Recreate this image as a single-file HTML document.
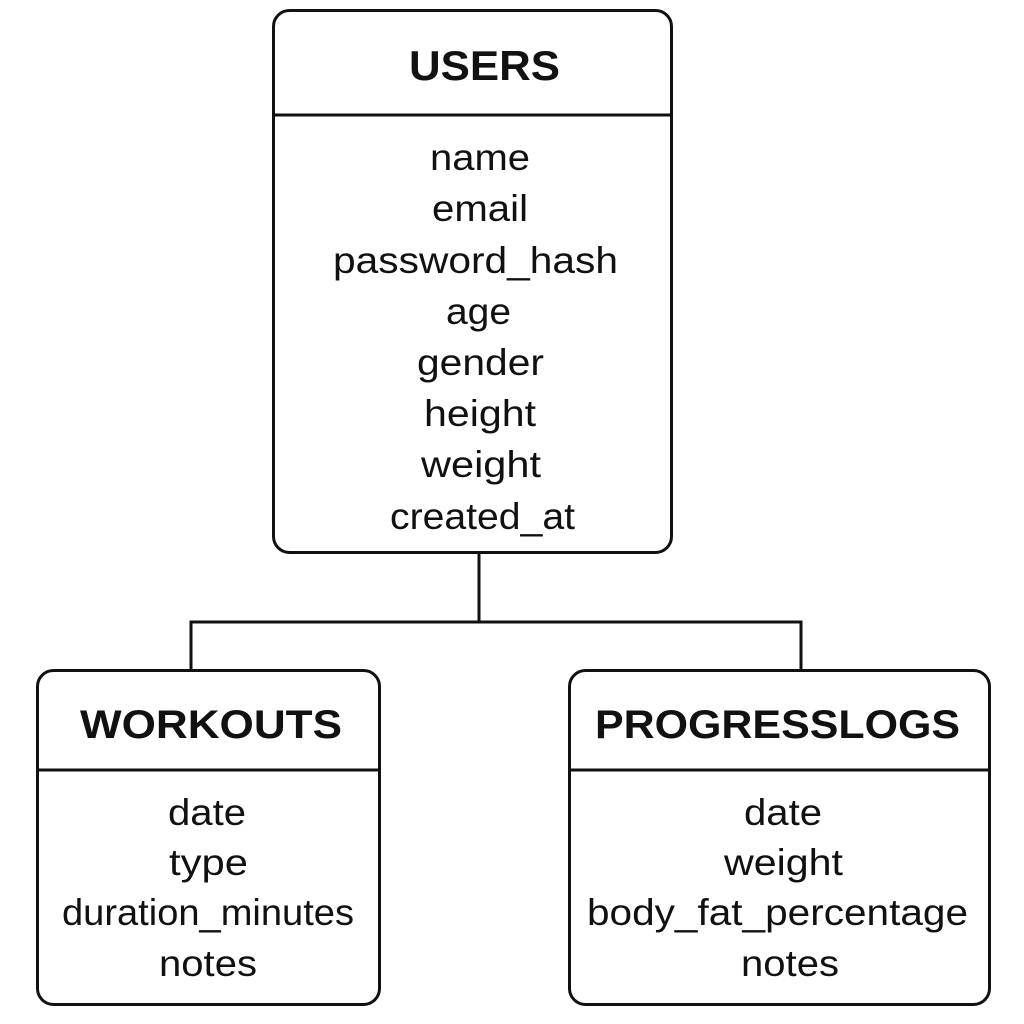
<!DOCTYPE html>
<html><head><meta charset="utf-8"><style>
html,body{margin:0;padding:0;background:#fff;}
body{width:1024px;height:1024px;position:relative;overflow:hidden;font-family:"Liberation Sans",sans-serif;color:#111;}
</style></head><body>
<svg width="1024" height="1024" viewBox="0 0 1024 1024" xmlns="http://www.w3.org/2000/svg" style="position:absolute;left:0;top:0">
<g fill="none" stroke="#111" stroke-width="3">
<rect x="273.5" y="10.5" width="398" height="542" rx="16"/>
<line x1="273.5" y1="115" x2="671.5" y2="115"/>
<rect x="37.5" y="670.5" width="342" height="334" rx="16"/>
<line x1="37.5" y1="770" x2="379.5" y2="770"/>
<rect x="569.5" y="670.5" width="420" height="334" rx="16"/>
<line x1="569.5" y1="770" x2="989.5" y2="770"/>
<polyline points="479,553 479,622"/>
<polyline points="191,670 191,622 801,622 801,670"/>
</g>
<g font-family="Liberation Sans, sans-serif" text-anchor="middle" fill="#111" lengthAdjust="spacingAndGlyphs">
<text x="484.5" y="80" font-size="42" font-weight="bold" textLength="151" lengthAdjust="spacingAndGlyphs">USERS</text>
<g font-size="37">
<text x="480" y="170" textLength="100" lengthAdjust="spacingAndGlyphs">name</text>
<text x="480" y="221" textLength="96" lengthAdjust="spacingAndGlyphs">email</text>
<text x="475.5" y="273" textLength="285" lengthAdjust="spacingAndGlyphs">password_hash</text>
<text x="478.5" y="324" textLength="65" lengthAdjust="spacingAndGlyphs">age</text>
<text x="480.5" y="375" textLength="127" lengthAdjust="spacingAndGlyphs">gender</text>
<text x="480" y="426" textLength="112" lengthAdjust="spacingAndGlyphs">height</text>
<text x="481" y="477" textLength="120" lengthAdjust="spacingAndGlyphs">weight</text>
<text x="482.5" y="529" textLength="185" lengthAdjust="spacingAndGlyphs">created_at</text>
</g>
<text x="211" y="738" font-size="40" font-weight="bold" textLength="262" lengthAdjust="spacingAndGlyphs">WORKOUTS</text>
<g font-size="37">
<text x="207" y="825" textLength="78" lengthAdjust="spacingAndGlyphs">date</text>
<text x="208.5" y="875" textLength="79" lengthAdjust="spacingAndGlyphs">type</text>
<text x="208" y="925" textLength="292" lengthAdjust="spacingAndGlyphs">duration_minutes</text>
<text x="208" y="976" textLength="98" lengthAdjust="spacingAndGlyphs">notes</text>
</g>
<text x="777.5" y="738" font-size="40" font-weight="bold" textLength="365" lengthAdjust="spacingAndGlyphs">PROGRESSLOGS</text>
<g font-size="37">
<text x="783" y="825" textLength="78" lengthAdjust="spacingAndGlyphs">date</text>
<text x="783.5" y="875" textLength="119" lengthAdjust="spacingAndGlyphs">weight</text>
<text x="777.5" y="925" textLength="381" lengthAdjust="spacingAndGlyphs">body_fat_percentage</text>
<text x="790" y="976" textLength="98" lengthAdjust="spacingAndGlyphs">notes</text>
</g>
</g>
</svg>
</body></html>
